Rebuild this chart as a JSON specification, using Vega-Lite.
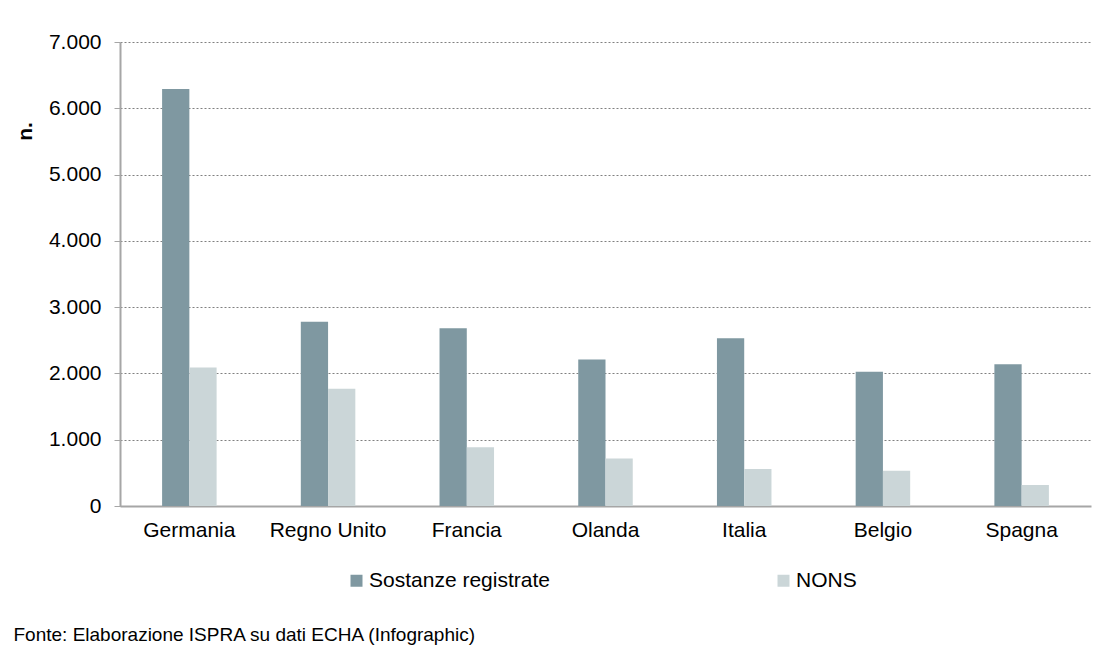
{
  "$schema": "https://vega.github.io/schema/vega-lite/v6.json",
  "autosize": "none",
  "width": 971,
  "height": 464,
  "padding": {"left": 120, "top": 42, "right": 13, "bottom": 148},
  "background": "white",
  "config": {
    "locale": {"number": {"decimal": ",", "thousands": ".", "grouping": [3], "currency": ["€", ""]}},
    "font": "Liberation Sans",
    "view": {"stroke": null}
  },
  "data": {
    "values": [
      {"paese": "Germania", "serie": "Sostanze registrate", "valore": 6290},
      {"paese": "Germania", "serie": "NONS", "valore": 2090},
      {"paese": "Regno Unito", "serie": "Sostanze registrate", "valore": 2780},
      {"paese": "Regno Unito", "serie": "NONS", "valore": 1770},
      {"paese": "Francia", "serie": "Sostanze registrate", "valore": 2680},
      {"paese": "Francia", "serie": "NONS", "valore": 885},
      {"paese": "Olanda", "serie": "Sostanze registrate", "valore": 2210},
      {"paese": "Olanda", "serie": "NONS", "valore": 715},
      {"paese": "Italia", "serie": "Sostanze registrate", "valore": 2530},
      {"paese": "Italia", "serie": "NONS", "valore": 560},
      {"paese": "Belgio", "serie": "Sostanze registrate", "valore": 2025},
      {"paese": "Belgio", "serie": "NONS", "valore": 530},
      {"paese": "Spagna", "serie": "Sostanze registrate", "valore": 2140},
      {"paese": "Spagna", "serie": "NONS", "valore": 317}
    ]
  },
  "mark": {"type": "bar"},
  "encoding": {
    "x": {
      "field": "paese",
      "type": "nominal",
      "sort": null,
      "scale": {"paddingInner": 0.607, "paddingOuter": 0.3035},
      "axis": {
        "title": "Fonte: Elaborazione ISPRA su dati ECHA (Infographic)",
        "titleFont": "Liberation Sans",
        "titleFontSize": 19,
        "titleFontWeight": "normal",
        "titleColor": "#000000",
        "titleAlign": "left",
        "titleBaseline": "alphabetic",
        "titleAnchor": "start",
        "titleX": -107,
        "titleY": 134,
        "labelAngle": 0,
        "labelFontSize": 21,
        "labelColor": "#000000",
        "labelPadding": 13,
        "labelBaseline": "top",
        "ticks": false,
        "domainColor": "#a6a6a6",
        "domainWidth": 2,
        "grid": false
      }
    },
    "xOffset": {"field": "serie", "type": "nominal", "sort": ["Sostanze registrate", "NONS"]},
    "y": {
      "field": "valore",
      "type": "quantitative",
      "scale": {"domain": [0, 7000], "nice": false},
      "axis": {
        "values": [0, 1000, 2000, 3000, 4000, 5000, 6000, 7000],
        "format": ",d",
        "title": "n.",
        "titleFontSize": 21,
        "titleFontWeight": "bold",
        "titleColor": "#000000",
        "titleAngle": 270,
        "titleAlign": "center",
        "titleBaseline": "alphabetic",
        "titleX": -89,
        "titleY": 89,
        "labelFontSize": 21,
        "labelColor": "#000000",
        "labelPadding": 13,
        "tickSize": 6,
        "tickColor": "#a6a6a6",
        "domainColor": "#a6a6a6",
        "domainWidth": 2,
        "gridColor": "#808080",
        "gridDash": [2, 2],
        "gridWidth": 1
      }
    },
    "color": {
      "field": "serie",
      "type": "nominal",
      "sort": ["Sostanze registrate", "NONS"],
      "scale": {"domain": ["Sostanze registrate", "NONS"], "range": ["#7f98a1", "#cbd6d8"]},
      "legend": {
        "title": null,
        "orient": "none",
        "direction": "horizontal",
        "legendX": 226,
        "legendY": 528,
        "symbolType": "square",
        "symbolSize": 144,
        "symbolStrokeWidth": 0,
        "labelFontSize": 21,
        "labelColor": "#000000",
        "labelOffset": 2,
        "labelLimit": 400,
        "columnPadding": 223
      }
    }
  }
}
